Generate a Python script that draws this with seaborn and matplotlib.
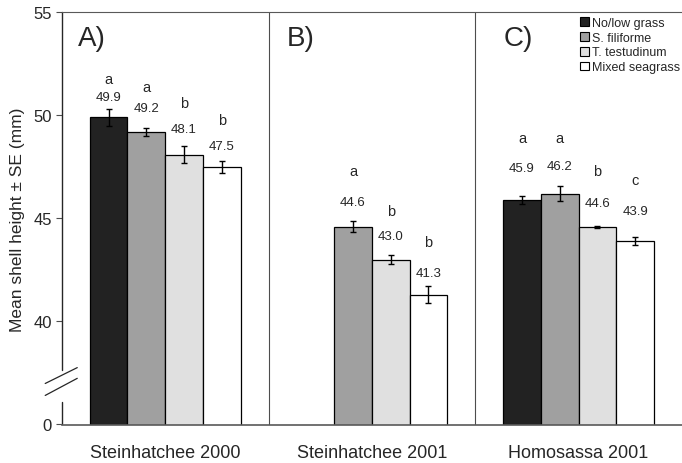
import matplotlib
matplotlib.use("Agg")
import matplotlib.pyplot as plt
import seaborn as sns
import numpy as np
import pandas as pd
from matplotlib.patches import Patch
from matplotlib.lines import Line2D

# ---------------- data ----------------
sites = ["Steinhatchee 2000", "Steinhatchee 2001", "Homosassa 2001"]
habitats = ["No/low grass", "S. filiforme", "T. testudinum", "Mixed seagrass"]
means = {
    "No/low grass":   [49.9, np.nan, 45.9],
    "S. filiforme":   [49.2, 44.6, 46.2],
    "T. testudinum":  [48.1, 43.0, 44.6],
    "Mixed seagrass": [47.5, 41.3, 43.9],
}
errs = {
    "No/low grass":   [0.40, np.nan, 0.20],
    "S. filiforme":   [0.20, 0.25, 0.35],
    "T. testudinum":  [0.40, 0.20, 0.05],
    "Mixed seagrass": [0.30, 0.40, 0.20],
}
letters = {
    "No/low grass":   ["a", "", "a"],
    "S. filiforme":   ["a", "a", "a"],
    "T. testudinum":  ["b", "b", "b"],
    "Mixed seagrass": ["b", "b", "c"],
}
panel_labels = ["A)", "B)", "C)"]
ytick_vals = [35, 40, 45, 50, 55]
ytick_labels = ["0", "40", "45", "50", "55"]

# ---------------- layout / style (not data) ----------------
letter_y = {
    "No/low grass":   [51.77, np.nan, 48.91],
    "S. filiforme":   [51.38, 47.31, 48.91],
    "T. testudinum":  [50.60, 45.37, 47.31],
    "Mixed seagrass": [49.78, 43.87, 46.87],
}
value_y = {
    "No/low grass":   [50.89, np.nan, 47.45],
    "S. filiforme":   [50.36, 45.80, 47.55],
    "T. testudinum":  [49.34, 44.15, 45.76],
    "Mixed seagrass": [48.52, 42.36, 45.37],
}
colors = ["#222222", "#a0a0a0", "#e0e0e0", "#ffffff"]

rows = []
for h in habitats:
    for i, s in enumerate(sites):
        rows.append({"site": s, "habitat": h, "mean": means[h][i]})
df = pd.DataFrame(rows)

sns.set_style("white")
plt.rcParams["font.family"] = ["Liberation Sans", "DejaVu Sans"]

W, H = 682, 464
fig = plt.figure(figsize=(W / 100, H / 100), dpi=100)
ax = fig.add_axes([61.75 / W, (H - 425.5) / H, 1 - 61.75 / W, (425.5 - 13.3) / H])

sns.barplot(data=df, x="site", y="mean", hue="habitat", order=sites,
            hue_order=habitats, palette=colors, width=0.73, errorbar=None,
            edgecolor="black", linewidth=0.9, saturation=1, ax=ax,
            legend=False)

bar_conts = list(ax.containers)
# error bars and labels
for j, cont in enumerate(bar_conts):
    h = habitats[j]
    for bar in cont:
        cx = bar.get_x() + bar.get_width() / 2
        i = int(round(cx))
        m = means[h][i]
        if np.isnan(m):
            continue
        ax.errorbar(cx, m, yerr=errs[h][i], color="black", capsize=2.5,
                    elinewidth=1, capthick=1, zorder=5)
        ax.text(cx, value_y[h][i], f"{m:.1f}", ha="center", va="center",
                fontsize=9.5)
        ax.text(cx, letter_y[h][i], letters[h][i], ha="center", va="center",
                fontsize=10.5)

ax.set_ylim(35, 55)
ax.set_xlim(-0.5, -0.5 + (W - 61.75) / 209.5)
ax.set_yticks(ytick_vals)
ax.set_yticklabels(ytick_labels, fontsize=12)
ax.set_xticks(range(len(sites)))
ax.set_xticklabels(sites, fontsize=13)
ax.set_xticks([-0.5, 0.5, 1.5, 2.5], minor=True)
ax.tick_params(axis="x", which="major", length=0, pad=14)
ax.tick_params(axis="x", which="minor", length=4, direction="out", width=0.8,
               color="0.3")
ax.tick_params(axis="y", length=4, direction="out", width=0.8, color="0.3",
               pad=3, left=True)
ax.set_xlabel("")
ax.set_ylabel("Mean shell height ± SE (mm)", fontsize=12.5, labelpad=6)

ax.spines["right"].set_visible(False)
ax.spines["left"].set_visible(False)
ax.spines["top"].set_color("0.35")
ax.spines["top"].set_linestyle((0, (2, 1)))
ax.spines["top"].set_linewidth(0.8)
ax.spines["bottom"].set_color("0.35")
ax.spines["bottom"].set_linewidth(1.2)

# broken y axis
ax.add_line(Line2D([-0.5, -0.5], [55, 37.66], color="0.15", lw=1.0,
                   clip_on=False))
ax.add_line(Line2D([-0.5, -0.5], [35, 36.07], color="0.15", lw=1.0,
                   clip_on=False))
ax.add_line(Line2D([-0.58, -0.425], [36.99, 37.76], color="0.15", lw=0.9,
                   clip_on=False))
ax.add_line(Line2D([-0.58, -0.425], [36.41, 37.24], color="0.15", lw=0.9,
                   clip_on=False))

# dividers
for xd in [0.5, 1.5]:
    ax.axvline(xd, color="0.3", lw=0.8, zorder=0)

# panel labels
for xp, lab in zip([-0.422, 0.59, 1.635], panel_labels):
    ax.text(xp, 53.75, lab, ha="left", va="center", fontsize=20)

handles = [Patch(facecolor=c, edgecolor="black", linewidth=0.8) for c in colors]
fig.legend(handles, habitats, loc="upper left",
           bbox_to_anchor=(580 / W, (H - 18) / H), frameon=False, fontsize=9,
           handlelength=0.7, handleheight=0.7, handletextpad=0.3,
           labelspacing=0.22, borderpad=0, borderaxespad=0)

fig.savefig("out.png", dpi=100)
